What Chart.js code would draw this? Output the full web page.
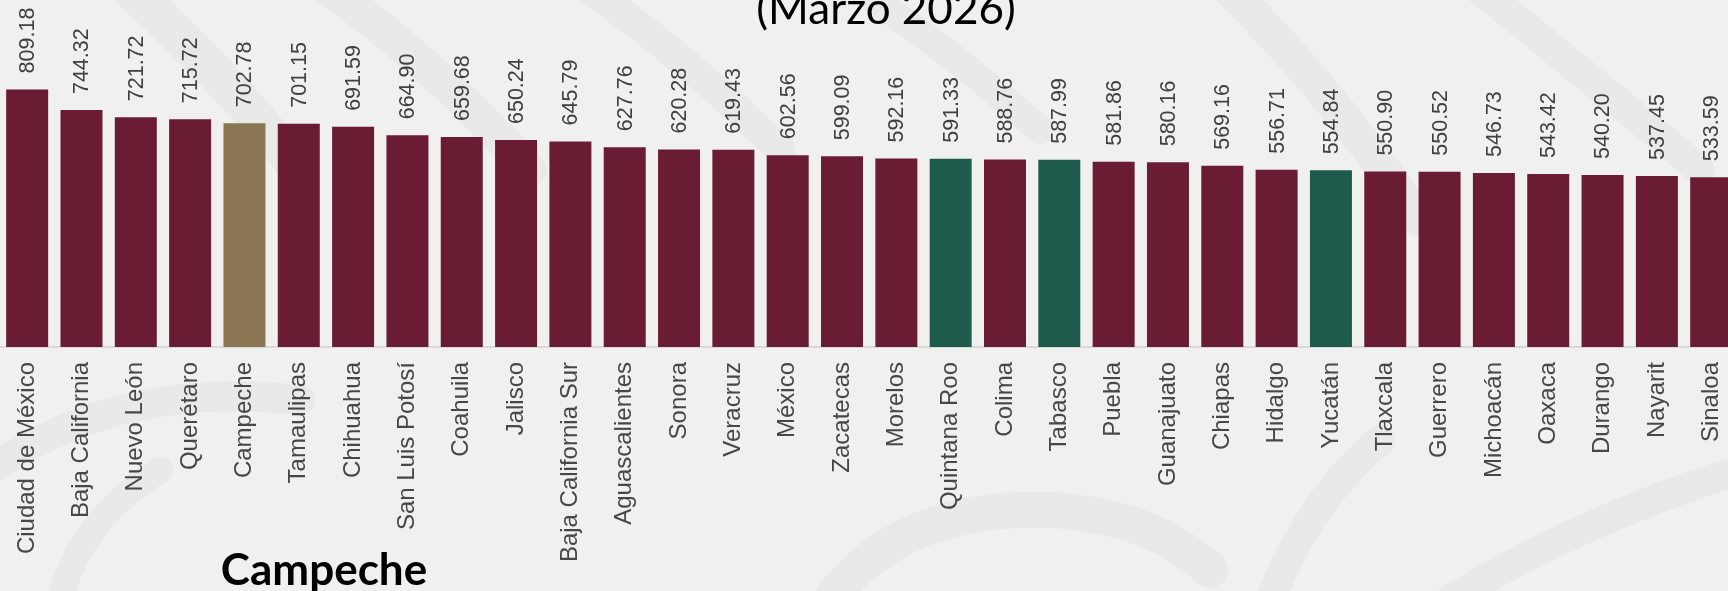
<!DOCTYPE html>
<html lang="es">
<head>
<meta charset="utf-8">
<title>Salario por entidad (Marzo 2026)</title>
<script src="https://cdn.jsdelivr.net/npm/chart.js@4.4.1/dist/chart.umd.min.js"></script>
<style>
    html, body {
        margin: 0;
        padding: 0;
        width: 1728px;
        height: 591px;
        overflow: hidden;
        background: #f0f0ef;
    }
    #fondo, #chart {
        position: absolute;
        left: 0;
        top: 0;
    }
</style>
</head>
<body>
<!-- marca de agua tenue del fondo -->
<svg id="fondo" width="1728" height="591" viewBox="0 0 1728 591">
    <g fill="none" stroke="#e9e9e8" stroke-linecap="round">
        <path d="M 130 -10 Q 210 60 300 170" stroke-width="38"/>
        <path d="M 330 -10 Q 430 60 530 170" stroke-width="34"/>
        <path d="M 590 -10 Q 690 60 780 150" stroke-width="30"/>
        <path d="M 860 -10 Q 950 50 1040 130" stroke-width="28"/>
        <path d="M 1230 -10 Q 1330 90 1420 220" stroke-width="34"/>
        <path d="M 1480 -10 Q 1580 70 1700 170" stroke-width="30"/>
        <path d="M 830 600 Q 900 505 1050 510 Q 1150 515 1210 570" stroke-width="36"/>
        <path d="M 1270 600 Q 1310 500 1380 440" stroke-width="30"/>
        <path d="M 1450 600 Q 1580 520 1740 470" stroke-width="30"/>
        <path d="M -10 470 Q 120 380 300 400" stroke-width="30"/>
        <path d="M 60 600 Q 80 520 160 470" stroke-width="26"/>
    </g>
</svg>
<canvas id="chart" width="1755" height="591"></canvas>
<script>
// entidades, de mayor a menor
const states = ['Ciudad de México', 'Baja California', 'Nuevo León', 'Querétaro', 'Campeche', 'Tamaulipas',
    'Chihuahua', 'San Luis Potosí', 'Coahuila', 'Jalisco', 'Baja California Sur', 'Aguascalientes',
    'Sonora', 'Veracruz', 'México', 'Zacatecas', 'Morelos', 'Quintana Roo', 'Colima', 'Tabasco',
    'Puebla', 'Guanajuato', 'Chiapas', 'Hidalgo', 'Yucatán', 'Tlaxcala', 'Guerrero', 'Michoacán',
    'Oaxaca', 'Durango', 'Nayarit', 'Sinaloa'];

const values = [809.18, 744.32, 721.72, 715.72, 702.78, 701.15, 691.59, 664.90, 659.68, 650.24, 645.79,
    627.76, 620.28, 619.43, 602.56, 599.09, 592.16, 591.33, 588.76, 587.99, 581.86, 580.16, 569.16,
    556.71, 554.84, 550.90, 550.52, 546.73, 543.42, 540.20, 537.45, 533.59];

// estados resaltados
const focusState = ['Campeche'];
const peninsulaStates = ['Quintana Roo', 'Tabasco', 'Yucatán'];

const title = '(Marzo 2026)';
const footerLabel = 'Campeche';

const GUINDA = '#691c32';
const DORADO = '#8b7653';
const VERDE = '#1e5b4d';

const barColors = states.map(s => {
    if (focusState.includes(s)) return DORADO;
    if (peninsulaStates.includes(s)) return VERDE;
    return GUINDA;
});

// etiquetas de valor giradas encima de cada barra
const valueLabels = {
    id: 'valueLabels',
    afterDatasetsDraw(chart) {
        const ctx = chart.ctx;
        const meta = chart.getDatasetMeta(0);
        ctx.save();
        ctx.fillStyle = '#404040';
        ctx.font = '21.5px "Liberation Sans", Arial, sans-serif';
        ctx.textAlign = 'left';
        ctx.textBaseline = 'middle';
        meta.data.forEach((bar, i) => {
            ctx.save();
            ctx.translate(bar.x, bar.y - 16);
            ctx.rotate(-Math.PI / 2);
            ctx.fillText(values[i].toFixed(2), 0, 1);
            ctx.restore();
        });
        ctx.restore();
    }
};

// titulo cortado arriba y nombre del estado abajo
const extraText = {
    id: 'extraText',
    afterDraw(chart) {
        const ctx = chart.ctx;
        ctx.save();
        ctx.fillStyle = '#000000';
        ctx.textAlign = 'center';
        ctx.textBaseline = 'alphabetic';
        ctx.font = '44px Lato, "Open Sans", sans-serif';
        ctx.fillText(title, 886, 24);
        ctx.font = 'bold 44px Lato, "Open Sans", sans-serif';
        ctx.fillText(footerLabel, 324, 585);
        ctx.restore();
    }
};

new Chart(document.getElementById('chart'), {
    type: 'bar',
    data: {
        labels: states,
        datasets: [{
            data: values,
            backgroundColor: barColors,
            borderWidth: 0,
            categoryPercentage: 1,
            barPercentage: 0.773
        }]
    },
    options: {
        responsive: false,
        animation: false,
        layout: { padding: 0 },
        plugins: {
            legend: { display: false },
            tooltip: { enabled: false }
        },
        scales: {
            x: {
                offset: true,
                grid: { display: false, drawTicks: false },
                border: { display: true, color: '#d9d9d9', width: 2 },
                ticks: {
                    autoSkip: false,
                    minRotation: 90,
                    maxRotation: 90,
                    padding: 15,
                    color: '#474747',
                    font: { family: '"Liberation Sans", Arial, sans-serif', size: 24 }
                },
                afterFit(scale) {
                    scale.height = 244;
                }
            },
            y: {
                display: false,
                min: 0,
                max: 1090
            }
        }
    },
    plugins: [valueLabels, extraText]
});
</script>
</body>
</html>
